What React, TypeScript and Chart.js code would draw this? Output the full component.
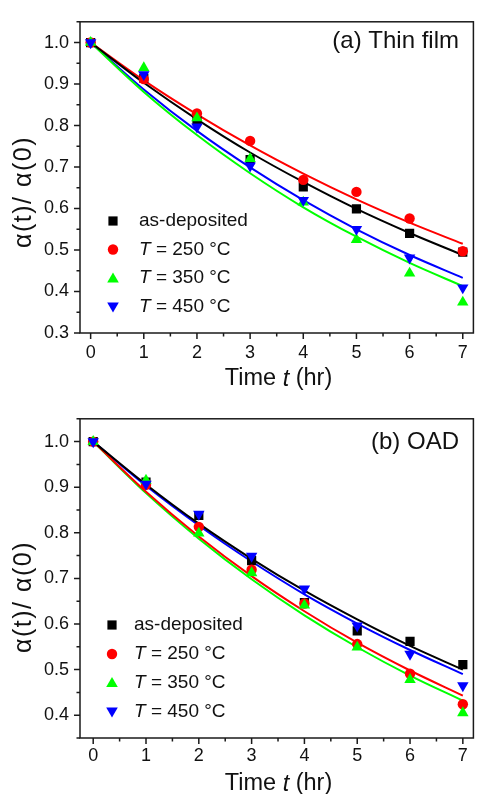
import React, { useEffect, useRef } from "react";
import { Chart, registerables } from "chart.js";

Chart.register(...registerables);

// ---------- data ----------
const times = [0, 1, 2, 3, 4, 5, 6, 7];
const xTickValues = [0, 1, 2, 3, 4, 5, 6, 7];
const yTicksA = [0.3, 0.4, 0.5, 0.6, 0.7, 0.8, 0.9, 1.0];
const yTicksB = [0.4, 0.5, 0.6, 0.7, 0.8, 0.9, 1.0];

const seriesLabels = ["as-deposited", "T = 250 °C", "T = 350 °C", "T = 450 °C"];

// Panel (a) Thin film – measured points
const aAsDeposited = [1.0, 0.914, 0.812, 0.718, 0.652, 0.599, 0.54, 0.495];
const aT250 = [1.0, 0.912, 0.829, 0.763, 0.669, 0.64, 0.576, 0.497];
const aT350 = [1.0, 0.939, 0.818, 0.72, 0.615, 0.525, 0.444, 0.374];
const aT450 = [1.0, 0.923, 0.797, 0.703, 0.62, 0.55, 0.481, 0.409];
// Panel (a) fitted curves
const aFitAsDeposited = [1.0, 0.903, 0.815, 0.735, 0.664, 0.599, 0.541, 0.488];
const aFitT250 = [1.0, 0.909, 0.827, 0.752, 0.684, 0.622, 0.566, 0.515];
const aFitT350 = [1.0, 0.881, 0.777, 0.685, 0.603, 0.532, 0.469, 0.413];
const aFitT450 = [1.0, 0.887, 0.787, 0.699, 0.62, 0.55, 0.488, 0.433];

// Panel (b) OAD – measured points
const bAsDeposited = [1.0, 0.911, 0.838, 0.739, 0.647, 0.585, 0.562, 0.511];
const bT250 = [1.0, 0.905, 0.813, 0.719, 0.645, 0.556, 0.491, 0.424];
const bT350 = [1.0, 0.915, 0.799, 0.712, 0.641, 0.549, 0.478, 0.405];
const bT450 = [1.0, 0.907, 0.841, 0.749, 0.677, 0.596, 0.534, 0.465];
// Panel (b) fitted curves
const bFitAsDeposited = [1.0, 0.906, 0.82, 0.743, 0.673, 0.61, 0.552, 0.5];
const bFitT250 = [1.0, 0.89, 0.792, 0.705, 0.628, 0.559, 0.498, 0.443];
const bFitT350 = [1.0, 0.887, 0.787, 0.698, 0.619, 0.549, 0.487, 0.432];
const bFitT450 = [1.0, 0.903, 0.816, 0.737, 0.665, 0.601, 0.543, 0.49];

// ---------- style ----------
const FONT = "'Liberation Sans', Arial, sans-serif";
const colors = ["#000000", "#ff0000", "#00ff00", "#0000ff"];
const pointStyles = ["rect", "circle", "triangle", "triangle"];
const pointRotations = [0, 0, 0, 180];
const pointRadii = [6.5, 5.2, 6.6, 6.6];
const CANVAS_W = 480;
const CANVAS_H = 397;
const AXIS_COLOR = "#1a1a1a";
const TICK_FONT = 18;

type PanelCfg = {
  markers: number[][];
  fits: number[][];
  yMin: number;
  yMax: number;
  yTicks: number[];
  xMin: number;
  xMax: number;
  top: number;
  bottom: number;
  right: number;
  label: string;
  labelY: number;
  legendY: number[];
  legendMarkerX: number;
  legendTextX: number;
  xTickPad: number;
  xTitleY: number;
  yTitleY: number;
};

const panelA: PanelCfg = {
  markers: [aAsDeposited, aT250, aT350, aT450],
  fits: [aFitAsDeposited, aFitT250, aFitT350, aFitT450],
  yMin: 0.3,
  yMax: 1.05,
  yTicks: yTicksA,
  xMin: -0.2,
  xMax: 7.2,
  top: 14,
  bottom: 333,
  right: 477,
  label: "(a) Thin film",
  labelY: 41,
  legendY: [221, 249.5, 278, 307],
  legendMarkerX: 113,
  legendTextX: 139,
  xTickPad: 9,
  xTitleY: 379,
  yTitleY: 192,
};

const panelB: PanelCfg = {
  markers: [bAsDeposited, bT250, bT350, bT450],
  fits: [bFitAsDeposited, bFitT250, bFitT350, bFitT450],
  yMin: 0.35,
  yMax: 1.05,
  yTicks: yTicksB,
  xMin: -0.25,
  xMax: 7.2,
  top: 20,
  bottom: 341,
  right: 479,
  label: "(b) OAD",
  labelY: 45.5,
  legendY: [228, 257, 285.5, 315],
  legendMarkerX: 112,
  legendTextX: 134,
  xTickPad: 7,
  xTitleY: 387,
  yTitleY: 200,
};

function drawMarker(ctx: CanvasRenderingContext2D, i: number, x: number, y: number) {
  ctx.save();
  ctx.fillStyle = colors[i];
  ctx.beginPath();
  if (i === 0) {
    ctx.rect(x - 4.6, y - 4.6, 9.2, 9.2);
  } else if (i === 1) {
    ctx.arc(x, y, 5.2, 0, Math.PI * 2);
  } else if (i === 2) {
    ctx.moveTo(x, y - 5.5);
    ctx.lineTo(x - 5.8, y + 4.5);
    ctx.lineTo(x + 5.8, y + 4.5);
    ctx.closePath();
  } else {
    ctx.moveTo(x, y + 5.5);
    ctx.lineTo(x - 5.8, y - 4.5);
    ctx.lineTo(x + 5.8, y - 4.5);
    ctx.closePath();
  }
  ctx.fill();
  ctx.restore();
}

function minorValues(majors: number[], min: number, max: number) {
  const step = majors[1] - majors[0];
  const out: number[] = [];
  const all = [majors[0] - step, ...majors];
  for (const m of all) {
    const v = m + step / 2;
    if (v >= min - 1e-9 && v <= max + 1e-9) out.push(v);
  }
  return out;
}

function makePlugin(cfg: PanelCfg) {
  return {
    id: "decor",
    afterDatasetsDraw(chart: any) {
      const ctx: CanvasRenderingContext2D = chart.ctx;
      const a = chart.chartArea;
      const xs = chart.scales.x;
      const ys = chart.scales.y;
      ctx.save();
      ctx.strokeStyle = AXIS_COLOR;
      ctx.lineWidth = 1.5;
      ctx.strokeRect(a.left, a.top, a.right - a.left, a.bottom - a.top);
      ctx.beginPath();
      for (const v of xTickValues) {
        const px = xs.getPixelForValue(v);
        ctx.moveTo(px, a.bottom);
        ctx.lineTo(px, a.bottom + 6);
      }
      for (const v of minorValues(xTickValues, cfg.xMin, cfg.xMax)) {
        const px = xs.getPixelForValue(v);
        ctx.moveTo(px, a.bottom);
        ctx.lineTo(px, a.bottom + 3.5);
      }
      for (const v of cfg.yTicks) {
        const py = ys.getPixelForValue(v);
        ctx.moveTo(a.left, py);
        ctx.lineTo(a.left - 6, py);
      }
      for (const v of minorValues(cfg.yTicks, cfg.yMin, cfg.yMax)) {
        const py = ys.getPixelForValue(v);
        ctx.moveTo(a.left, py);
        ctx.lineTo(a.left - 3.5, py);
      }
      ctx.stroke();
      ctx.restore();
    },
    afterDraw(chart: any) {
      const ctx: CanvasRenderingContext2D = chart.ctx;
      const a = chart.chartArea;
      ctx.save();
      ctx.fillStyle = "#111";
      ctx.font = `24px ${FONT}`;
      ctx.textAlign = "right";
      ctx.textBaseline = "middle";
      ctx.fillText(cfg.label, 459, cfg.labelY);

      ctx.textAlign = "left";
      seriesLabels.forEach((lab, i) => {
        const y = cfg.legendY[i];
        drawMarker(ctx, i, cfg.legendMarkerX, y);
        ctx.fillStyle = "#111";
        let x = cfg.legendTextX;
        if (lab.startsWith("T ")) {
          ctx.font = `italic 19px ${FONT}`;
          ctx.fillText("T", x, y);
          x += ctx.measureText("T").width;
          ctx.font = `19px ${FONT}`;
          ctx.fillText(lab.slice(1), x, y);
        } else {
          ctx.font = `19px ${FONT}`;
          ctx.fillText(lab, x, y);
        }
      });

      const parts: [string, string][] = [
        ["Time ", ""],
        ["t", "italic "],
        [" (hr)", ""],
      ];
      let total = 0;
      for (const [s, st] of parts) {
        ctx.font = `${st}23.5px ${FONT}`;
        total += ctx.measureText(s).width;
      }
      let x = (a.left + 477) / 2 - total / 2;
      ctx.textAlign = "left";
      for (const [s, st] of parts) {
        ctx.font = `${st}23.5px ${FONT}`;
        ctx.fillText(s, x, cfg.xTitleY);
        x += ctx.measureText(s).width;
      }

      ctx.translate(24, cfg.yTitleY);
      ctx.rotate(-Math.PI / 2);
      ctx.textAlign = "center";
      ctx.font = `25px ${FONT}`;
      (ctx as any).letterSpacing = "1.5px";
      ctx.fillText("α(t)/ α(0)", 0, 0);
      ctx.restore();
    },
  };
}

function Panel({ cfg }: { cfg: PanelCfg }) {
  const ref = useRef<HTMLCanvasElement | null>(null);
  useEffect(() => {
    if (!ref.current) return;
    const datasets: any[] = [];
    cfg.markers.forEach((vals, i) => {
      datasets.push({
        label: seriesLabels[i],
        data: times.map((t, k) => ({ x: t, y: vals[k] })),
        showLine: false,
        pointStyle: pointStyles[i],
        rotation: pointRotations[i],
        pointRotation: pointRotations[i],
        pointRadius: pointRadii[i],
        pointBorderWidth: 0,
        pointBackgroundColor: colors[i],
        pointBorderColor: colors[i],
        borderColor: colors[i],
        backgroundColor: colors[i],
        order: 4 - i,
      });
    });
    cfg.fits.forEach((vals, i) => {
      datasets.push({
        label: seriesLabels[i] + " fit",
        data: times.map((t, k) => ({ x: t, y: vals[k] })),
        showLine: true,
        pointRadius: 0,
        borderWidth: 2,
        borderColor: colors[i],
        backgroundColor: colors[i],
        cubicInterpolationMode: "monotone",
        fill: false,
        order: 10 + i,
      });
    });
    const chart = new Chart(ref.current, {
      type: "line",
      data: { datasets },
      options: {
        responsive: false,
        animation: false,
        devicePixelRatio: 1,
        events: [],
        layout: { padding: { top: cfg.top, right: CANVAS_W - cfg.right, bottom: 0, left: 0 } },
        plugins: { legend: { display: false }, tooltip: { enabled: false } },
        scales: {
          x: {
            type: "linear",
            min: cfg.xMin,
            max: cfg.xMax,
            grid: { display: false, drawTicks: false },
            border: { display: false },
            ticks: {
              autoSkip: false,
              maxRotation: 0,
              padding: cfg.xTickPad,
              color: "#111",
              font: { family: FONT, size: TICK_FONT },
              callback: (v: any) => String(v),
            },
            afterBuildTicks: (s: any) => {
              s.ticks = xTickValues.map((v) => ({ value: v }));
            },
            afterFit: (s: any) => {
              s.height = CANVAS_H - cfg.bottom;
            },
          },
          y: {
            type: "linear",
            min: cfg.yMin,
            max: cfg.yMax,
            grid: { display: false, drawTicks: false },
            border: { display: false },
            ticks: {
              autoSkip: false,
              padding: 11,
              color: "#111",
              font: { family: FONT, size: TICK_FONT },
              callback: (v: any) => Number(v).toFixed(1),
            },
            afterBuildTicks: (s: any) => {
              s.ticks = cfg.yTicks.map((v) => ({ value: v }));
            },
            afterFit: (s: any) => {
              s.width = 80;
            },
          },
        },
      } as any,
      plugins: [makePlugin(cfg) as any],
    });
    return () => chart.destroy();
  }, [cfg]);
  return (
    <canvas
      ref={ref}
      width={CANVAS_W}
      height={CANVAS_H}
      style={{ display: "block", width: CANVAS_W, height: CANVAS_H }}
    />
  );
}

export default function App() {
  return (
    <div
      style={{
        position: "absolute",
        left: 0,
        top: 0,
        width: 478,
        height: 794,
        overflow: "hidden",
        background: "#fff",
      }}
    >
      <Panel cfg={panelA} />
      <Panel cfg={panelB} />
    </div>
  );
}
